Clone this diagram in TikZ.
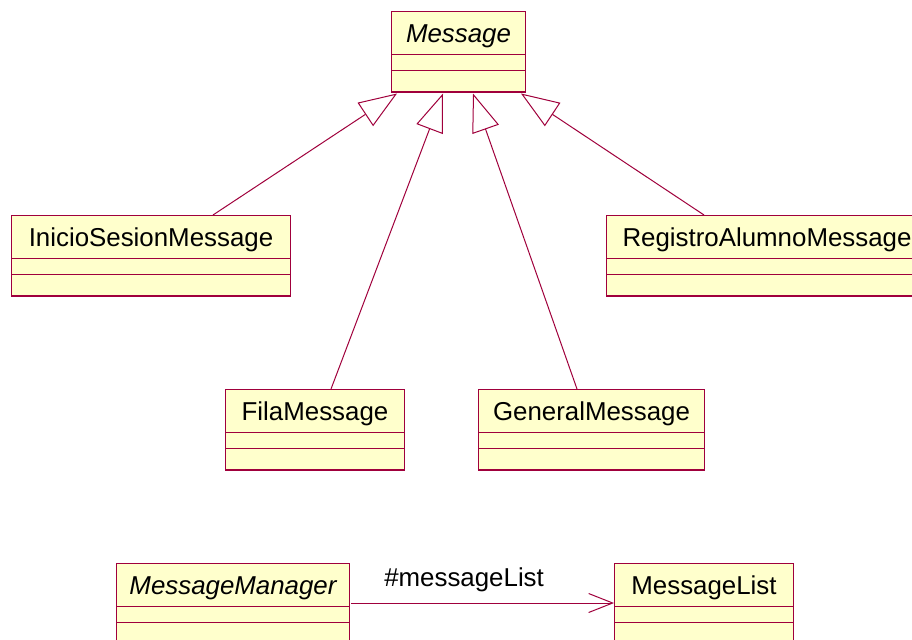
\documentclass[tikz,border=0pt]{standalone}
\usepackage{fontspec}
\setmainfont{Liberation Sans}
\usetikzlibrary{arrows.meta,calc}
\definecolor{umlred}{RGB}{160,0,60}
\definecolor{umlfill}{RGB}{255,255,204}
\tikzset{
  classbox/.style={rectangle, draw=umlred, fill=umlfill, line width=0.75pt,
    inner sep=0pt, minimum height=60pt},
  sepline/.style={draw=umlred, line width=0.75pt},
  shadowedge/.style={draw=umlred, line width=1.5pt},
  classname/.style={anchor=base, inner sep=0pt, font=\fontsize{19.4}{23}\selectfont},
  inherit/.style={draw=umlred, line width=0.75pt,
    -{Triangle[open, fill=white, length=28.5pt, width=21pt]}},
  navigate/.style={draw=umlred, line width=0.75pt,
    -{Straight Barb[length=18pt, width=14.25pt]}},
}
% #1 node name, #2/#3 top-left corner, #4 right edge, #5 class name
\newcommand\umlclass[5]{%
  \node[classbox, anchor=north west, minimum width={(#4-#2)*0.75pt}] (#1) at (#2,#3) {};
  \draw[sepline] ($(#1.north west)+(0,43)$) -- ($(#1.north east)+(0,43)$);
  \draw[sepline] ($(#1.north west)+(0,59)$) -- ($(#1.north east)+(0,59)$);
  \draw[shadowedge] (#1.south west) -- (#1.south east);
  \node[classname] (#1-name) at ($(#1.north)+(0,31)$) {#5};
}
\begin{document}
\begin{tikzpicture}[x=0.75pt, y=-0.75pt]
  \path[use as bounding box, clip] (0,0) rectangle (912,639);
  \fill[white] (0,0) rectangle (912,639);

  % class boxes
  \umlclass{msg}{391}{11}{525}{\itshape Message}
  \umlclass{inicio}{11}{215}{290}{InicioSesionMessage}
  \umlclass{registro}{606}{215}{927}{RegistroAlumnoMessage}
  \umlclass{fila}{225}{389}{404}{FilaMessage}
  \umlclass{general}{478}{389}{704}{GeneralMessage}
  \umlclass{mgr}{116}{563}{349}{\itshape MessageManager}
  \umlclass{mlist}{614}{563}{793}{MessageList}

  % generalizations
  \draw[inherit] ($(inicio.north west)+(202,0)$) -- ($(msg.south west)+(6,1.5)$);
  \draw[inherit] ($(fila.north west)+(106,0)$) -- ($(msg.south west)+(52,1.5)$);
  \draw[inherit] ($(general.north west)+(99,0)$) -- ($(msg.south west)+(82,1.5)$);
  \draw[inherit] ($(registro.north west)+(98,0)$) -- ($(msg.south west)+(130,1.5)$);

  % navigable association
  \draw[navigate] ($(mgr.north east)+(1,40)$) -- ($(mlist.north west)+(0,40)$)
    node[pos=0.43, anchor=base, yshift=12.75pt, inner sep=0pt,
         font=\fontsize{19.4}{23}\selectfont] (role) {\#messageList};
\end{tikzpicture}
\end{document}
